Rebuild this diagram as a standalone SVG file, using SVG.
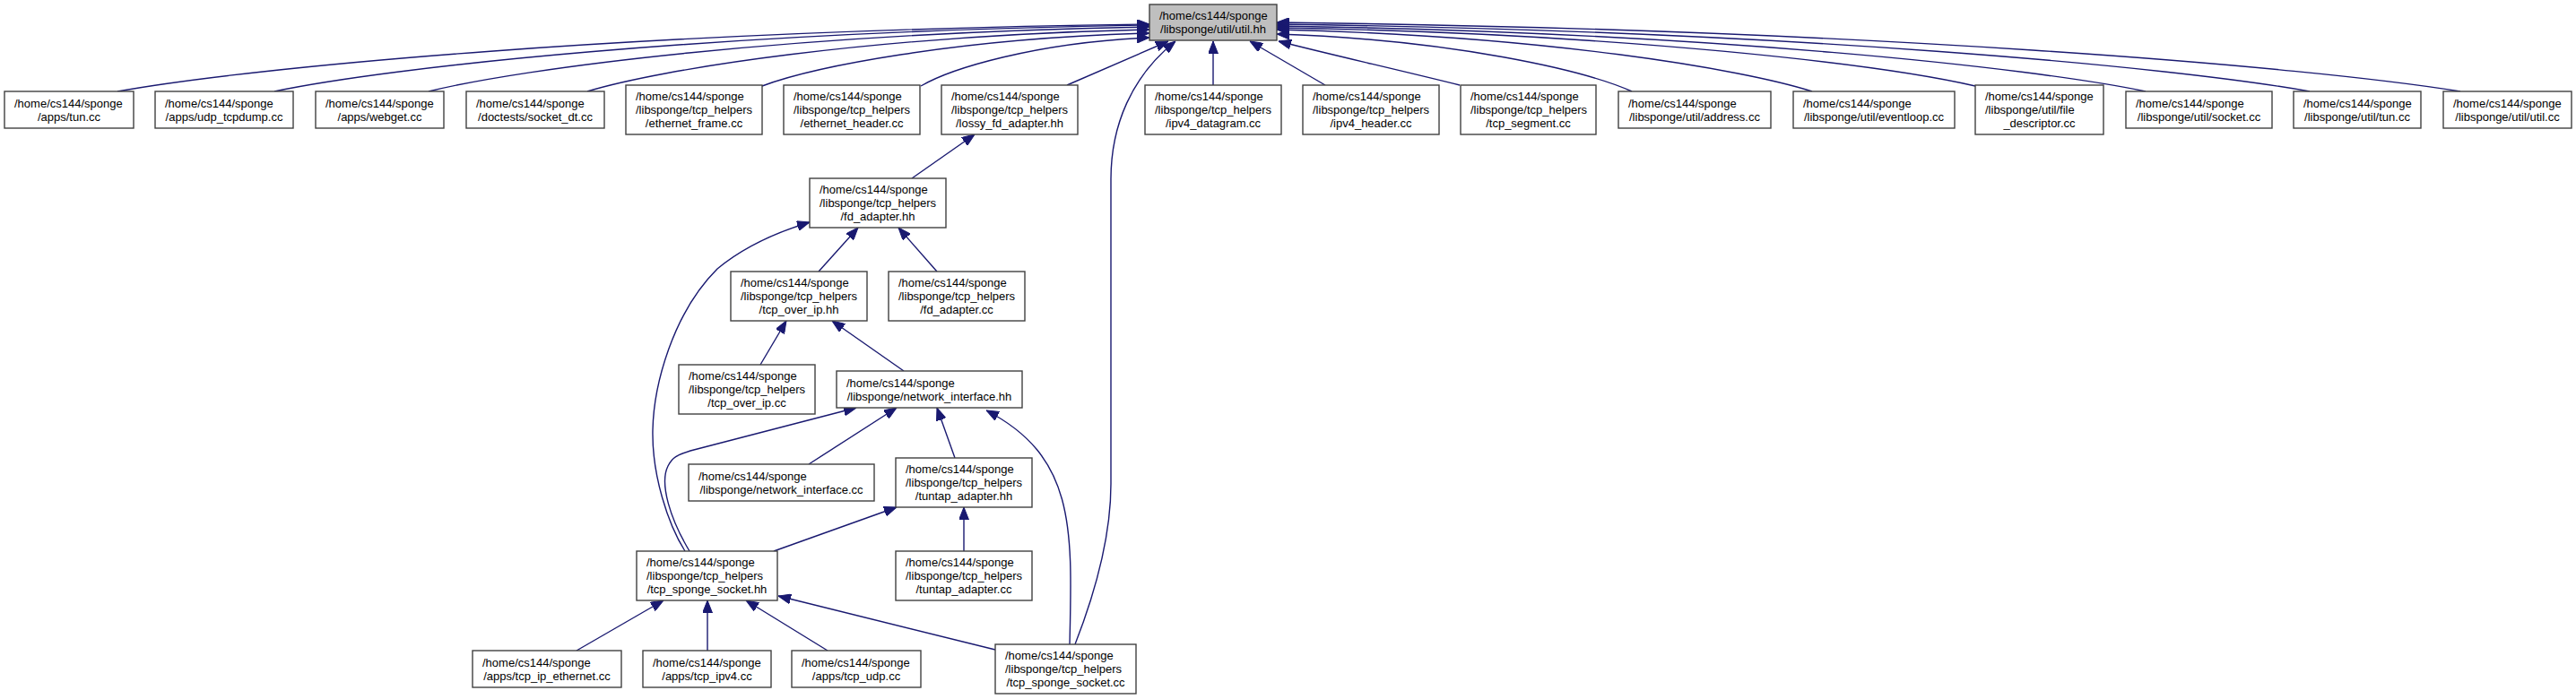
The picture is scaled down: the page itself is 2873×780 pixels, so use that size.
<svg xmlns="http://www.w3.org/2000/svg" width="2873" height="780" viewBox="0 0 2873 780">
<style>
.node rect{fill:#ffffff;stroke:#404040;stroke-width:1.4}
.root rect{fill:#bfbfbf}
text{font-family:"Liberation Sans",Arial,Helvetica,sans-serif;font-size:13px;fill:#000000}
text.c{text-anchor:middle}
.edges path{fill:none;stroke:#191970;stroke-width:1.4;marker-end:url(#arr)}
</style>
<defs>
<marker id="arr" markerUnits="userSpaceOnUse" markerWidth="14" markerHeight="11" refX="14" refY="5.5" orient="auto">
<path d="M0,0 L14,5.5 L0,11 z" fill="#191970" stroke="#191970" stroke-width="1"/>
</marker>
</defs>
<rect x="0" y="0" width="2873" height="780" fill="#ffffff"/>
<g class="edges" id="edges">
<path d="M131,102 C280.6,75 706.5,34.5 1282,27"/>
<path d="M306,102 C432.9,75.4 794,35.4 1282,28"/>
<path d="M478,102 C582.5,76.1 880,37.2 1282,30"/>
<path d="M655,102 C736.5,77.2 968.5,39.9 1282,33"/>
<path d="M850,96 C906.2,74.8 1066,42.9 1282,37"/>
<path d="M1027,96 C1060.2,76.6 1154.5,47.4 1282,42"/>
<path d="M1190,95 L1303,46"/>
<path d="M1353,95 L1353,46"/>
<path d="M1478,95 L1394,46"/>
<path d="M1628,95 C1560,78 1480,60 1426,46"/>
<path d="M1820,102 C1768.5,79 1622,44.4 1424,38"/>
<path d="M2021,102 C1943.4,77.2 1722.5,39.9 1424,33"/>
<path d="M2203,96 C2101.7,72.6 1813.5,37.5 1424,31"/>
<path d="M2393,102 C2267,75.7 1908.5,36.3 1424,29"/>
<path d="M2576,102 C2426.2,75 2000,34.5 1424,27"/>
<path d="M2744,102 C2572.4,74.3 2084,32.7 1424,25"/>
<path d="M1199,719 C1222,660 1239,600 1239,540 L1239,200 C1239,140 1262,85 1311,46"/>
<path d="M1017,199 L1087,150"/>
<path d="M913,303 L957,254"/>
<path d="M1045,303 L1002,254"/>
<path d="M764,615 C745,585 727,530 728,480 C729,430 750,350 800,300 C830,275 870,258 903,248"/>
<path d="M848,407 L877,358"/>
<path d="M1008,414 L928,358"/>
<path d="M902,518 L1000,455"/>
<path d="M1065,511 L1045,455"/>
<path d="M769,615 C748,580 735,540 745,520 C750,510 755,508 770,503 L955,455"/>
<path d="M1193,719 C1196,590 1200,510 1100,458"/>
<path d="M1075,615 L1075,566"/>
<path d="M863,615 L1000,566"/>
<path d="M643,726 L740,670"/>
<path d="M789,726 L789,670"/>
<path d="M923,726 L832,670"/>
<path d="M1110,725 L868,665"/>
</g>
<g id="n_util_hh" class="node root"><rect x="1282" y="5" width="142" height="40"/><text x="1293" y="22">/home/cs144/sponge</text><text class="c" x="1353" y="37">/libsponge/util/util.hh</text></g>
<g id="n_apps_tun" class="node"><rect x="5" y="102" width="144" height="41"/><text x="16" y="119.5">/home/cs144/sponge</text><text class="c" x="77" y="134.5">/apps/tun.cc</text></g>
<g id="n_udp_tcpdump" class="node"><rect x="173" y="102" width="154" height="41"/><text x="184" y="119.5">/home/cs144/sponge</text><text class="c" x="250" y="134.5">/apps/udp_tcpdump.cc</text></g>
<g id="n_webget" class="node"><rect x="352" y="102" width="143" height="41"/><text x="363" y="119.5">/home/cs144/sponge</text><text class="c" x="423.5" y="134.5">/apps/webget.cc</text></g>
<g id="n_socket_dt" class="node"><rect x="520" y="102" width="154" height="41"/><text x="531" y="119.5">/home/cs144/sponge</text><text class="c" x="597" y="134.5">/doctests/socket_dt.cc</text></g>
<g id="n_ethernet_frame" class="node"><rect x="698" y="95" width="152" height="55"/><text x="709" y="112">/home/cs144/sponge</text><text x="709" y="127">/libsponge/tcp_helpers</text><text class="c" x="774" y="142">/ethernet_frame.cc</text></g>
<g id="n_ethernet_header" class="node"><rect x="874" y="95" width="152" height="55"/><text x="885" y="112">/home/cs144/sponge</text><text x="885" y="127">/libsponge/tcp_helpers</text><text class="c" x="950" y="142">/ethernet_header.cc</text></g>
<g id="n_lossy_fd_adapter" class="node"><rect x="1050" y="95" width="152" height="55"/><text x="1061" y="112">/home/cs144/sponge</text><text x="1061" y="127">/libsponge/tcp_helpers</text><text class="c" x="1126" y="142">/lossy_fd_adapter.hh</text></g>
<g id="n_ipv4_datagram" class="node"><rect x="1277" y="95" width="152" height="55"/><text x="1288" y="112">/home/cs144/sponge</text><text x="1288" y="127">/libsponge/tcp_helpers</text><text class="c" x="1353" y="142">/ipv4_datagram.cc</text></g>
<g id="n_ipv4_header" class="node"><rect x="1453" y="95" width="152" height="55"/><text x="1464" y="112">/home/cs144/sponge</text><text x="1464" y="127">/libsponge/tcp_helpers</text><text class="c" x="1529" y="142">/ipv4_header.cc</text></g>
<g id="n_tcp_segment" class="node"><rect x="1629" y="95" width="151" height="55"/><text x="1640" y="112">/home/cs144/sponge</text><text x="1640" y="127">/libsponge/tcp_helpers</text><text class="c" x="1704.5" y="142">/tcp_segment.cc</text></g>
<g id="n_address" class="node"><rect x="1805" y="102" width="170" height="41"/><text x="1816" y="119.5">/home/cs144/sponge</text><text class="c" x="1890" y="134.5">/libsponge/util/address.cc</text></g>
<g id="n_eventloop" class="node"><rect x="2000" y="102" width="180" height="41"/><text x="2011" y="119.5">/home/cs144/sponge</text><text class="c" x="2090" y="134.5">/libsponge/util/eventloop.cc</text></g>
<g id="n_file_descriptor" class="node"><rect x="2203" y="95" width="143" height="55"/><text x="2214" y="112">/home/cs144/sponge</text><text x="2214" y="127">/libsponge/util/file</text><text class="c" x="2274.5" y="142">_descriptor.cc</text></g>
<g id="n_socket_cc" class="node"><rect x="2371" y="102" width="163" height="41"/><text x="2382" y="119.5">/home/cs144/sponge</text><text class="c" x="2452.5" y="134.5">/libsponge/util/socket.cc</text></g>
<g id="n_util_tun" class="node"><rect x="2558" y="102" width="142" height="41"/><text x="2569" y="119.5">/home/cs144/sponge</text><text class="c" x="2629" y="134.5">/libsponge/util/tun.cc</text></g>
<g id="n_util_util" class="node"><rect x="2725" y="102" width="143" height="41"/><text x="2736" y="119.5">/home/cs144/sponge</text><text class="c" x="2796.5" y="134.5">/libsponge/util/util.cc</text></g>
<g id="n_fd_adapter_hh" class="node"><rect x="903" y="199" width="152" height="55"/><text x="914" y="216">/home/cs144/sponge</text><text x="914" y="231">/libsponge/tcp_helpers</text><text class="c" x="979" y="246">/fd_adapter.hh</text></g>
<g id="n_tcp_over_ip_hh" class="node"><rect x="815" y="303" width="152" height="55"/><text x="826" y="320">/home/cs144/sponge</text><text x="826" y="335">/libsponge/tcp_helpers</text><text class="c" x="891" y="350">/tcp_over_ip.hh</text></g>
<g id="n_fd_adapter_cc" class="node"><rect x="991" y="303" width="152" height="55"/><text x="1002" y="320">/home/cs144/sponge</text><text x="1002" y="335">/libsponge/tcp_helpers</text><text class="c" x="1067" y="350">/fd_adapter.cc</text></g>
<g id="n_tcp_over_ip_cc" class="node"><rect x="757" y="407" width="152" height="55"/><text x="768" y="424">/home/cs144/sponge</text><text x="768" y="439">/libsponge/tcp_helpers</text><text class="c" x="833" y="454">/tcp_over_ip.cc</text></g>
<g id="n_network_interface_hh" class="node"><rect x="933" y="414" width="207" height="41"/><text x="944" y="431.5">/home/cs144/sponge</text><text class="c" x="1036.5" y="446.5">/libsponge/network_interface.hh</text></g>
<g id="n_network_interface_cc" class="node"><rect x="768" y="518" width="207" height="41"/><text x="779" y="535.5">/home/cs144/sponge</text><text class="c" x="871.5" y="550.5">/libsponge/network_interface.cc</text></g>
<g id="n_tuntap_adapter_hh" class="node"><rect x="999" y="511" width="152" height="55"/><text x="1010" y="528">/home/cs144/sponge</text><text x="1010" y="543">/libsponge/tcp_helpers</text><text class="c" x="1075" y="558">/tuntap_adapter.hh</text></g>
<g id="n_tcp_sponge_socket_hh" class="node"><rect x="710" y="615" width="157" height="55"/><text x="721" y="632">/home/cs144/sponge</text><text x="721" y="647">/libsponge/tcp_helpers</text><text class="c" x="788.5" y="662">/tcp_sponge_socket.hh</text></g>
<g id="n_tuntap_adapter_cc" class="node"><rect x="999" y="615" width="152" height="55"/><text x="1010" y="632">/home/cs144/sponge</text><text x="1010" y="647">/libsponge/tcp_helpers</text><text class="c" x="1075" y="662">/tuntap_adapter.cc</text></g>
<g id="n_tcp_ip_ethernet" class="node"><rect x="527" y="726" width="166" height="41"/><text x="538" y="743.5">/home/cs144/sponge</text><text class="c" x="610" y="758.5">/apps/tcp_ip_ethernet.cc</text></g>
<g id="n_tcp_ipv4" class="node"><rect x="717" y="726" width="143" height="41"/><text x="728" y="743.5">/home/cs144/sponge</text><text class="c" x="788.5" y="758.5">/apps/tcp_ipv4.cc</text></g>
<g id="n_tcp_udp" class="node"><rect x="883" y="726" width="144" height="41"/><text x="894" y="743.5">/home/cs144/sponge</text><text class="c" x="955" y="758.5">/apps/tcp_udp.cc</text></g>
<g id="n_tcp_sponge_socket_cc" class="node"><rect x="1110" y="719" width="157" height="55"/><text x="1121" y="736">/home/cs144/sponge</text><text x="1121" y="751">/libsponge/tcp_helpers</text><text class="c" x="1188.5" y="766">/tcp_sponge_socket.cc</text></g>
</svg>
